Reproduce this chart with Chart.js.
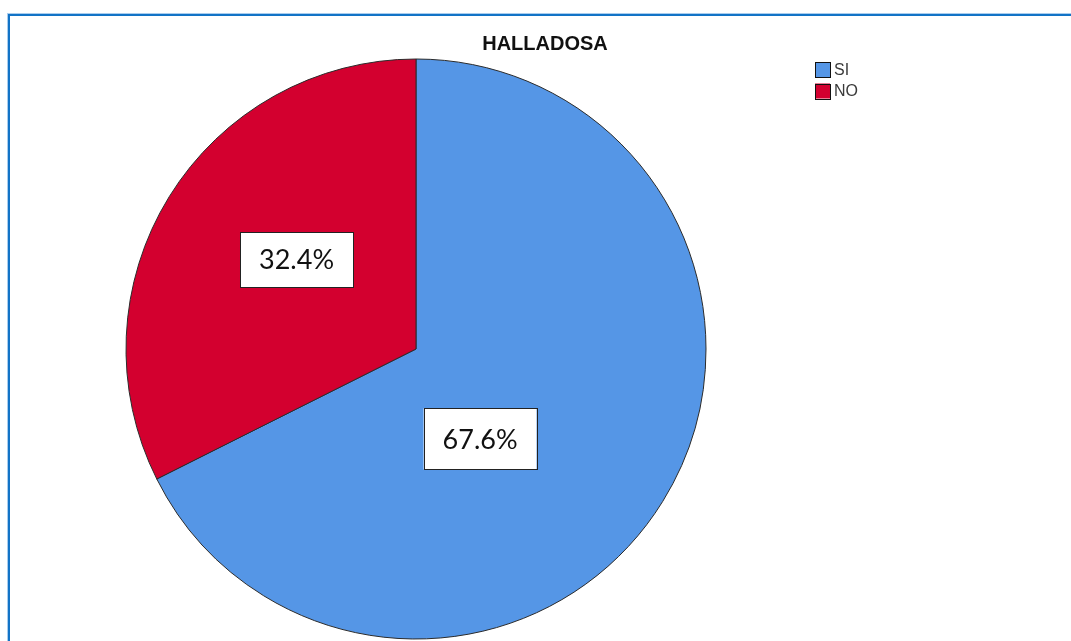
<!DOCTYPE html>
<html>
<head>
<meta charset="utf-8">
<script src="https://cdn.jsdelivr.net/npm/chart.js@4/dist/chart.umd.min.js"></script>
<style>
  html, body { margin: 0; padding: 0; background: #fff; }
  #wrap { position: relative; width: 1071px; height: 641px; overflow: hidden; }
  #frame {
    position: absolute; left: 8px; top: 14px; width: 1100px; height: 700px;
    border-left: 2px solid #1273c6; border-top: 2px solid #1273c6;
    box-shadow: -1px -1px 0 #a9cdee;
  }
  canvas { position: absolute; left: 0; top: 0; }
</style>
</head>
<body>
<div id="wrap">
  <div id="frame"></div>
  <canvas id="pie" width="1071" height="641"></canvas>
</div>
<script>
// data
const chartTitle = "HALLADOSA";
const categories = ["SI", "NO"];
const percents = [67.6, 32.4];
const sliceColors = ["#5596e6", "#d3002f"];

// label boxes: anchor as a fraction of the radius from the pie centre (SPSS style placement)
const labelAnchors = [[0.221, 0.31], [-0.412, -0.308]];
const labelHeights = [61, 55];

const overlayPlugin = {
  id: "overlay",
  afterDraw(chart) {
    const ctx = chart.ctx;
    const meta = chart.getDatasetMeta(0);

    // title
    ctx.save();
    ctx.fillStyle = "#111";
    ctx.font = "bold 20px 'Liberation Sans', Arial, sans-serif";
    ctx.textAlign = "center";
    ctx.textBaseline = "alphabetic";
    ctx.fillText(chartTitle, 545, 50);
    ctx.restore();

    // percentage boxes
    meta.data.forEach((arc, i) => {
      const r = arc.outerRadius;
      const cx = arc.x + labelAnchors[i][0] * r;
      const cy = arc.y + labelAnchors[i][1] * r;
      const w = 113, h = labelHeights[i];
      ctx.save();
      ctx.fillStyle = "#fff";
      ctx.fillRect(cx - w / 2, cy - h / 2, w, h);
      ctx.strokeStyle = "#222";
      ctx.lineWidth = 1;
      ctx.strokeRect(Math.round(cx - w / 2) + 0.5, Math.round(cy - h / 2) + 0.5, w, h);
      ctx.fillStyle = "#111";
      ctx.font = "27px Lato, 'Open Sans', sans-serif";
      ctx.textAlign = "center";
      ctx.textBaseline = "middle";
      ctx.fillText(percents[i].toFixed(1) + "%", cx, cy + 1);
      ctx.restore();
    });

    // legend
    categories.forEach((name, i) => {
      const y = 62 + i * 21.5;
      ctx.save();
      ctx.fillStyle = sliceColors[i];
      ctx.fillRect(815, y, 15, 15);
      ctx.strokeStyle = "#111";
      ctx.lineWidth = 1;
      ctx.strokeRect(815.5, Math.round(y) + 0.5, 15, 15);
      ctx.fillStyle = "#3a3a3a";
      ctx.font = "16px 'Liberation Sans', Arial, sans-serif";
      ctx.textAlign = "left";
      ctx.textBaseline = "middle";
      ctx.fillText(name, 834, y + 8.5);
      ctx.restore();
    });
  }
};

new Chart(document.getElementById("pie"), {
  type: "pie",
  data: {
    labels: categories,
    datasets: [{
      data: percents,
      backgroundColor: sliceColors,
      borderColor: "#2b2b2b",
      borderWidth: 1,
      hoverOffset: 0
    }]
  },
  options: {
    responsive: false,
    animation: false,
    events: [],
    radius: 290,
    layout: { padding: { left: 126, right: 365, top: 59, bottom: 2 } },
    plugins: {
      legend: { display: false },
      tooltip: { enabled: false },
      title: { display: false }
    }
  },
  plugins: [overlayPlugin]
});
</script>
</body>
</html>
